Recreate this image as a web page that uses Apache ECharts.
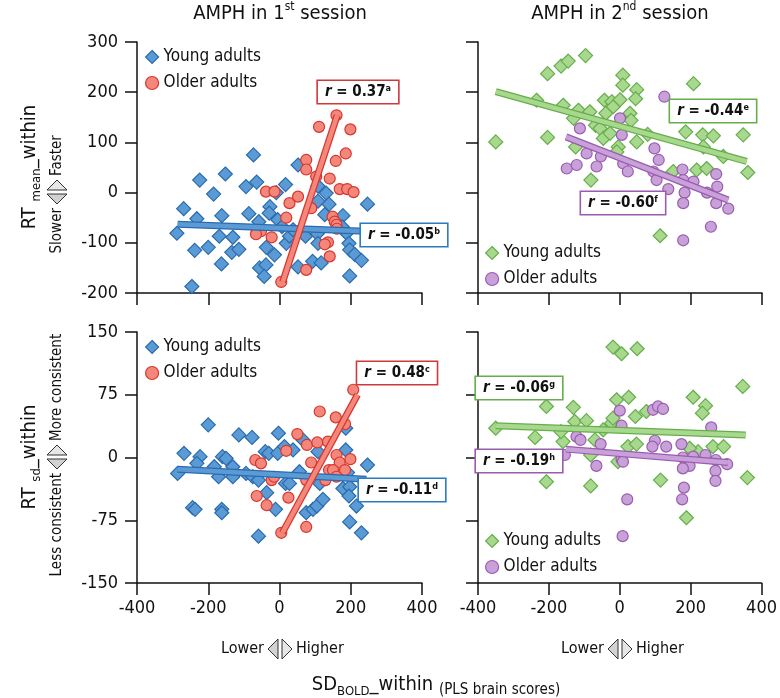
<!DOCTYPE html>
<html><head><meta charset="utf-8">
<script src="https://cdn.jsdelivr.net/npm/echarts@6/dist/echarts.min.js"></script>
<style>html,body{margin:0;padding:0;background:#fff}#c{width:780px;height:698px}</style>
</head><body><div id="c"></div>
<script>
// ---------- data ----------
const xTicks = [-400, -200, 0, 200, 400];
const meanTicks = [-200, -100, 0, 100, 200, 300];
const sdTicks = [-150, -75, 0, 75, 150];

const panelTitles = ['1', '2'];
const panelSup = ['st', 'nd'];
const seriesNames = ['Young adults', 'Older adults'];

// Panel 1: AMPH 1st session, RT mean
const meanYoungS1 = [[-269,-32],[-288,-81],[-224,25],[-232,-52],[-246,-187],[-238,-115],[-200,-109],[-185,-3],[-152,37],[-162,-46],[-169,-87],[-163,-142],[-131,-89],[-134,-119],[-114,-113],[-94,12],[-86,-42],[-73,75],[-64,21],[-58,-58],[-56,-150],[-37,-109],[-38,-144],[-27,-28],[-29,-41],[-43,-167],[-14,-124],[-5,-54],[-9,0],[17,16],[7,-68],[19,-101],[28,-87],[38,-74],[52,-148],[52,55],[73,-87],[93,-137],[108,13],[131,-1],[108,-17],[139,-23],[127,-44],[117,-140],[106,-82],[108,-101],[178,-46],[188,-81],[195,-101],[197,-114],[211,-123],[230,-135],[197,-166],[247,-23],[176,-68]];
const meanOlderS1 = [[-38,2],[-14,2],[-64,-77],[-52,-77],[-66,-83],[-22,-89],[19,-50],[28,-21],[52,-8],[5,-178],[75,65],[75,46],[111,131],[103,32],[141,28],[89,-31],[75,-154],[136,-99],[127,-103],[141,-127],[160,154],[199,126],[186,78],[158,63],[169,7],[190,7],[208,1],[149,-48],[155,-58],[160,-64],[161,-72]];
// Panel 2: AMPH 2nd session, RT mean
const meanYoungS2 = [[-350,101],[-204,237],[-166,252],[-146,262],[-97,273],[-235,184],[-204,110],[-160,174],[-131,148],[-117,164],[-85,161],[-69,134],[-56,128],[-44,184],[-40,158],[-23,181],[-19,171],[0,185],[8,234],[8,214],[47,205],[44,187],[28,158],[31,144],[-47,108],[-28,118],[-5,91],[-9,81],[-125,91],[-82,25],[47,101],[78,116],[207,217],[185,121],[233,115],[263,113],[235,91],[291,72],[347,115],[360,40],[216,45],[244,48],[150,42],[113,-86]];
const meanOlderS2 = [[125,191],[-113,128],[0,148],[5,115],[-94,78],[-54,72],[-150,48],[-122,55],[-66,52],[9,58],[22,42],[97,88],[109,65],[94,42],[103,25],[136,7],[176,46],[178,25],[207,22],[182,0],[178,-21],[245,0],[271,37],[274,12],[271,-21],[305,-32],[256,-68],[178,-95]];
// Panel 3: AMPH 1st session, RT sd
const sdYoungS1 = [[-286,-19],[-268,5],[-223,1],[-232,-7],[-244,-60],[-237,-62],[-200,39],[-183,-11],[-171,-23],[-160,1],[-150,-1],[-131,-11],[-131,-23],[-162,-62],[-162,-66],[-114,27],[-94,-19],[-77,24],[-75,-23],[-59,-27],[-59,-94],[-40,7],[-30,5],[-36,-42],[-11,-62],[-3,29],[-5,5],[14,13],[38,9],[17,-31],[28,-31],[56,-17],[66,21],[75,-66],[94,-62],[105,-58],[122,-50],[108,7],[113,-31],[186,35],[186,9],[178,-37],[197,-35],[195,-46],[216,-58],[197,-77],[230,-90],[247,-9],[191,-18]];
const sdOlderS1 = [[-68,-3],[-52,-7],[-64,-46],[-36,-57],[-22,-27],[-15,-23],[19,8],[25,-48],[5,-90],[50,28],[77,15],[106,18],[89,-6],[75,-27],[75,-83],[113,55],[136,19],[158,48],[184,40],[207,81],[160,3],[169,-6],[199,-2],[139,-15],[150,-15],[184,-15],[129,-27],[160,-23]];
// Panel 4: AMPH 2nd session, RT sd
const sdYoungS2 = [[-350,35],[-239,24],[-207,61],[-207,-29],[-160,19],[-166,31],[-131,60],[-127,43],[-94,44],[-82,3],[-82,-34],[-70,21],[-47,33],[-23,41],[-19,132],[5,124],[49,130],[-9,69],[25,72],[44,49],[75,55],[23,13],[47,16],[-5,-5],[115,-27],[188,-72],[207,72],[242,62],[233,53],[263,13],[293,13],[221,7],[197,11],[347,85],[360,-24],[-19,47]];
const sdOlderS2 = [[0,56],[5,38],[94,57],[108,61],[122,58],[-122,25],[-111,21],[-155,3],[-54,16],[-66,-10],[5,-2],[9,-5],[21,-50],[8,-94],[99,20],[92,13],[131,13],[174,16],[178,0],[197,-10],[178,-13],[207,1],[242,3],[258,36],[271,-3],[270,-16],[270,-28],[303,-8],[181,-36],[176,-50]];

// regression line end points
const fitMeanYoungS1 = [[-286,-63],[242,-77]];
const fitMeanOlderS1 = [[9,-178],[162,154]];
const fitMeanYoungS2 = [[-350,201],[357,62]];
const fitMeanOlderS2 = [[-152,111],[305,-15]];
const fitSdYoungS1 = [[-286,-14],[244,-26]];
const fitSdOlderS1 = [[8,-90],[219,75]];
const fitSdYoungS2 = [[-350,38],[355,27]];
const fitSdOlderS2 = [[-152,10],[305,-6]];

// correlation labels
const rValues = ['0.37', '-0.05', '-0.44', '-0.60', '0.48', '-0.11', '-0.06', '-0.19'];
const rLetters = ['a', 'b', 'e', 'f', 'c', 'd', 'g', 'h'];

// ---------- styling ----------
const F = "'Liberation Sans Narrow','DejaVu Sans Condensed',sans-serif";
const COL = {
  young1: {fill: '#5b9bd5', stroke: '#2a6aae'},
  older1: {fill: '#f4877b', stroke: '#d7362c'},
  young2: {fill: '#a8d88e', stroke: '#65ae4b'},
  older2: {fill: '#c9a1d9', stroke: '#9a5cb0'}
};
const grids = [
  {left: 137, width: 285, top: 42, height: 251},
  {left: 478, width: 284, top: 42, height: 251},
  {left: 137, width: 285, top: 332, height: 251},
  {left: 478, width: 284, top: 332, height: 251}
];

function xAxis(i) {
  return {
    gridIndex: i, type: 'value', min: xTicks[0], max: xTicks[xTicks.length - 1], interval: xTicks[1] - xTicks[0],
    axisLine: {onZero: false, lineStyle: {color: '#111', width: 1.5}},
    axisTick: {length: 12, lineStyle: {color: '#111', width: 1.5}},
    splitLine: {show: false},
    axisLabel: {show: i >= 2, fontFamily: F, fontSize: 18, color: '#111', margin: 16}
  };
}
function yAxis(i) {
  const t = i < 2 ? meanTicks : sdTicks;
  return {
    gridIndex: i, type: 'value', min: t[0], max: t[t.length - 1], interval: t[1] - t[0],
    axisLine: {onZero: false, lineStyle: {color: '#111', width: 1.5}},
    axisTick: {length: 12, lineStyle: {color: '#111', width: 1.5}},
    splitLine: {show: false},
    axisLabel: {show: i % 2 === 0, fontFamily: F, fontSize: 18, color: '#111', margin: 19}
  };
}
function scatter(i, name, data, c, sym) {
  return {
    type: 'scatter', name: name, xAxisIndex: i, yAxisIndex: i, data: data,
    symbol: sym, symbolSize: sym === 'diamond' ? 14 : 11,
    itemStyle: {color: c.fill, borderColor: c.stroke, borderWidth: 1.2, opacity: 1},
    emphasis: {disabled: true}
  };
}
function fit(i, data, c) {
  return [
    {type: 'line', name: 'fit', xAxisIndex: i, yAxisIndex: i, data: data, symbol: 'none', silent: true,
     lineStyle: {color: c.stroke, width: 7}},
    {type: 'line', name: 'fit', xAxisIndex: i, yAxisIndex: i, data: data, symbol: 'none', silent: true,
     lineStyle: {color: c.fill, width: 4.5}}
  ];
}
function legend(i, left, top, cy, co) {
  return {
    orient: 'vertical', left: left, top: top, padding: 0, itemGap: 6, itemWidth: 13, itemHeight: 13,
    selectedMode: false,
    textStyle: {fontFamily: F, fontSize: 17, color: '#111', lineHeight: 20},
    data: [
      {name: seriesNames[0], icon: 'diamond', itemStyle: {color: cy.fill, borderColor: cy.stroke, borderWidth: 1.2}},
      {name: seriesNames[1], icon: 'circle', itemStyle: {color: co.fill, borderColor: co.stroke, borderWidth: 1.2}}
    ]
  };
}
function rLabel(cx, cy, k, color) {
  return {
    type: 'text', x: cx, y: cy, z: 100,
    style: {
      text: '{i|r}{b| = ' + rValues[k] + '}{s|' + rLetters[k] + '}',
      rich: {
        i: {fontFamily: F, fontSize: 15, fontWeight: 'bold', fontStyle: 'italic', lineHeight: 17, fill: '#111'},
        b: {fontFamily: F, fontSize: 15, fontWeight: 'bold', lineHeight: 17, fill: '#111'},
        s: {fontFamily: F, fontSize: 9, fontWeight: 'bold', lineHeight: 10, verticalAlign: 'top', fill: '#111'}
      },
      align: 'center', verticalAlign: 'middle',
      backgroundColor: '#fff', borderColor: color, borderWidth: 1.6, padding: [3, 7, 2, 7]
    }
  };
}
function arrowsH(x0, y0) {
  return [
    {type: 'polygon', shape: {points: [[x0 - 2, y0 - 10], [x0 - 2, y0 + 10], [x0 - 12, y0]]}, style: {fill: '#d2d2d2', stroke: '#333', lineWidth: 1}},
    {type: 'polygon', shape: {points: [[x0 + 2, y0 - 10], [x0 + 2, y0 + 10], [x0 + 12, y0]]}, style: {fill: '#e6e6e6', stroke: '#333', lineWidth: 1}},
    {type: 'text', x: x0 - 16, y: y0, style: {text: 'Lower', font: '16px ' + F, fill: '#111', align: 'right', verticalAlign: 'middle'}},
    {type: 'text', x: x0 + 16, y: y0, style: {text: 'Higher', font: '16px ' + F, fill: '#111', align: 'left', verticalAlign: 'middle'}}
  ];
}
function arrowsV(x0, y0, lo, hi) {
  return [
    {type: 'polygon', shape: {points: [[x0 - 10, y0 - 2], [x0 + 10, y0 - 2], [x0, y0 - 12]]}, style: {fill: '#e6e6e6', stroke: '#333', lineWidth: 1}},
    {type: 'polygon', shape: {points: [[x0 - 10, y0 + 2], [x0 + 10, y0 + 2], [x0, y0 + 12]]}, style: {fill: '#d2d2d2', stroke: '#333', lineWidth: 1}},
    {type: 'text', x: x0, y: y0 + 16, rotation: Math.PI / 2, style: {text: lo, font: '15px ' + F, fill: '#111', align: 'right', verticalAlign: 'middle'}},
    {type: 'text', x: x0, y: y0 - 16, rotation: Math.PI / 2, style: {text: hi, font: '15px ' + F, fill: '#111', align: 'left', verticalAlign: 'middle'}}
  ];
}
const bigRich = {
  a: {fontFamily: F, fontSize: 20, lineHeight: 26, fill: '#111'},
  s: {fontFamily: F, fontSize: 12, lineHeight: 12, verticalAlign: 'top', fill: '#111'},
  d: {fontFamily: F, fontSize: 13, lineHeight: 13, verticalAlign: 'bottom', fill: '#111'},
  p: {fontFamily: F, fontSize: 15, lineHeight: 18, verticalAlign: 'bottom', fill: '#111'}
};

const series = [].concat(
  scatter(0, seriesNames[0], meanYoungS1, COL.young1, 'diamond'), fit(0, fitMeanYoungS1, COL.young1),
  scatter(0, seriesNames[1], meanOlderS1, COL.older1, 'circle'), fit(0, fitMeanOlderS1, COL.older1),
  scatter(1, seriesNames[0], meanYoungS2, COL.young2, 'diamond'), fit(1, fitMeanYoungS2, COL.young2),
  scatter(1, seriesNames[1], meanOlderS2, COL.older2, 'circle'), fit(1, fitMeanOlderS2, COL.older2),
  scatter(2, seriesNames[0], sdYoungS1, COL.young1, 'diamond'), fit(2, fitSdYoungS1, COL.young1),
  scatter(2, seriesNames[1], sdOlderS1, COL.older1, 'circle'), fit(2, fitSdOlderS1, COL.older1),
  scatter(3, seriesNames[0], sdYoungS2, COL.young2, 'diamond'), fit(3, fitSdYoungS2, COL.young2),
  scatter(3, seriesNames[1], sdOlderS2, COL.older2, 'circle'), fit(3, fitSdOlderS2, COL.older2)
);

const graphic = [].concat(
  [
    {type: 'text', x: 280, y: 14, style: {text: '{a|AMPH in ' + panelTitles[0] + '}{s|' + panelSup[0] + '}{a| session}', rich: bigRich, align: 'center', verticalAlign: 'middle'}},
    {type: 'text', x: 620, y: 14, style: {text: '{a|AMPH in ' + panelTitles[1] + '}{s|' + panelSup[1] + '}{a| session}', rich: bigRich, align: 'center', verticalAlign: 'middle'}},
    {type: 'text', x: 30, y: 167, rotation: Math.PI / 2, style: {text: '{a|RT }{d|mean}{a|_within}', rich: bigRich, align: 'center', verticalAlign: 'middle'}},
    {type: 'text', x: 30, y: 457, rotation: Math.PI / 2, style: {text: '{a|RT }{d|sd}{a|_within}', rich: bigRich, align: 'center', verticalAlign: 'middle'}},
    {type: 'text', x: 436, y: 685, style: {text: '{a|SD}{d|BOLD}{a|_within }{p|(PLS brain scores)}', rich: bigRich, align: 'center', verticalAlign: 'middle'}}
  ],
  arrowsV(57, 192, 'Slower', 'Faster'),
  arrowsV(57, 457, 'Less consistent', 'More consistent'),
  arrowsH(280, 649),
  arrowsH(620, 649),
  [
    rLabel(358, 92, 0, '#d0383a'),
    rLabel(404, 235, 1, '#2b7bbd'),
    rLabel(713, 111, 2, '#65ae4b'),
    rLabel(623, 203, 3, '#9a5cb0'),
    rLabel(397, 373, 4, '#d0383a'),
    rLabel(402, 490, 5, '#2b7bbd'),
    rLabel(519, 388, 6, '#65ae4b'),
    rLabel(519, 461, 7, '#9a5cb0')
  ]
);

const chart = echarts.init(document.getElementById('c'), null, {renderer: 'canvas'});
chart.setOption({
  animation: false,
  backgroundColor: '#fff',
  grid: grids,
  xAxis: [0, 1, 2, 3].map(xAxis),
  yAxis: [0, 1, 2, 3].map(yAxis),
  legend: [
    legend(0, 145, 47, COL.young1, COL.older1),
    legend(1, 485, 243, COL.young2, COL.older2),
    legend(2, 145, 337, COL.young1, COL.older1),
    legend(3, 485, 531, COL.young2, COL.older2)
  ],
  series: series,
  graphic: graphic
});
</script></body></html>
